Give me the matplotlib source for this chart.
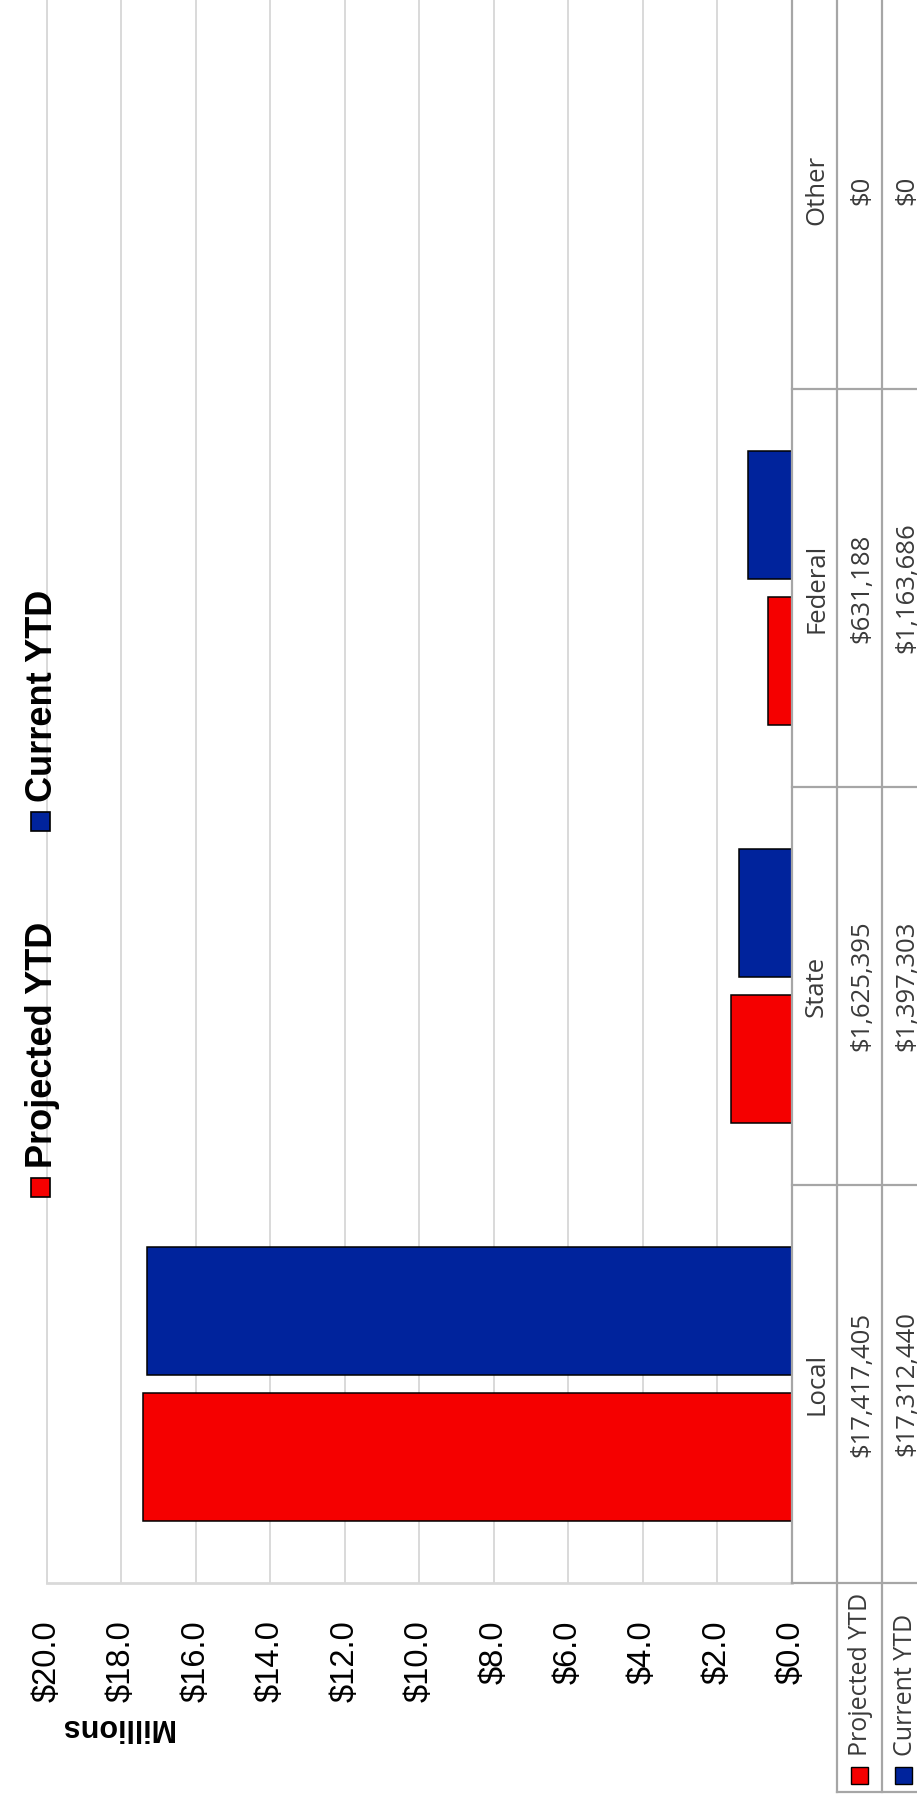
import numpy as np
import matplotlib
matplotlib.use("Agg")
import matplotlib.pyplot as plt
from matplotlib.patches import Rectangle
from matplotlib.lines import Line2D

# ---------------- data ----------------
categories = ["Local", "State", "Federal", "Other"]
series_names = ["Projected YTD", "Current YTD"]
projected_ytd = [17417405, 1625395, 631188, 0]
current_ytd = [17312440, 1397303, 1163686, 0]
value_ticks = [0, 2, 4, 6, 8, 10, 12, 14, 16, 18, 20]
tick_labels = ["$0.0", "$2.0", "$4.0", "$6.0", "$8.0", "$10.0",
               "$12.0", "$14.0", "$16.0", "$18.0", "$20.0"]
unit_label = "Millions"

RED = "#F50000"
BLUE = "#00239C"
GRID = "#D9D9D9"
TBL = "#A6A6A6"
TXT = "#3A3A3A"

W, H = 917, 1820
fig = plt.figure(figsize=(W / 100, H / 100), dpi=100)
fig.patch.set_facecolor("white")


def fx(x):
    return x / W


def fy(y):
    return 1 - y / H


# ---------------- main plot (rotated view: bars horizontal) ----------------
ax = fig.add_axes([fx(47), fy(1583), fx(791.5) - fx(47), fy(-9) - fy(1583)])
ypos = np.arange(len(categories))
proj_m = [v / 1e6 for v in projected_ytd]
curr_m = [v / 1e6 for v in current_ytd]
ax.barh(ypos - 0.183, proj_m, height=0.32, color=RED, edgecolor="black",
        linewidth=[1.1 if v > 0 else 0 for v in proj_m], zorder=3)
ax.barh(ypos + 0.183, curr_m, height=0.32, color=BLUE, edgecolor="black",
        linewidth=[1.1 if v > 0 else 0 for v in curr_m], zorder=3)
ax.set_xlim(20, 0)
ax.set_ylim(-0.5, len(categories) - 0.5)
ax.set_xticks(value_ticks)
ax.set_xticklabels(tick_labels, rotation=90, fontsize=23.5,
                   family="Liberation Sans", color="black")
ax.tick_params(axis="x", length=0, pad=27)
ax.set_yticks([])
ax.grid(axis="x", color=GRID, linewidth=1.4, zorder=0)
ax.set_axisbelow(True)
for s in ["top", "right"]:
    ax.spines[s].set_visible(False)
ax.spines["left"].set_color(GRID)
ax.spines["left"].set_linewidth(1.4)
ax.spines["bottom"].set_color(GRID)
ax.spines["bottom"].set_linewidth(2.0)

# ---------------- overlay in pixel coordinates ----------------
ov = fig.add_axes([0, 0, 1, 1], zorder=5)
ov.set_xlim(0, W)
ov.set_ylim(H, 0)
ov.axis("off")
ov.patch.set_alpha(0)

fig.canvas.draw()


def cat_px(v):
    disp = ax.transData.transform((0, v))
    return H - disp[1]


# table grid lines
x_tab0, x_tab1, x_tab2 = 792, 837, 882
y_bottom = cat_px(-0.5)
ov.add_line(Line2D([x_tab0, x_tab0], [-20, y_bottom], color=TBL, lw=1.6))
for xx in (x_tab1, x_tab2):
    ov.add_line(Line2D([xx, xx], [-20, 1792], color=TBL, lw=1.6))
for b in np.arange(len(categories) - 1) + 0.5:
    yy = cat_px(b)
    ov.add_line(Line2D([x_tab0, W + 5], [yy, yy], color=TBL, lw=1.6))
ov.add_line(Line2D([x_tab0, W + 5], [y_bottom, y_bottom], color=TBL, lw=1.6))
ov.add_line(Line2D([x_tab1, W + 5], [1792, 1792], color=TBL, lw=1.6))

tfont = dict(rotation=90, rotation_mode="anchor", ha="center", va="baseline",
             fontsize=18.5, family="Open Sans", color=TXT)
for i, cat in enumerate(categories):
    yc = cat_px(i)
    ov.text(823, yc, cat, **tfont)
    ov.text(868, yc, f"${projected_ytd[i]:,.0f}", **tfont)
    ov.text(913, yc, f"${current_ytd[i]:,.0f}", **tfont)

# legend keys inside the data table
for xk, xb, name, col in [(851, 867, series_names[0], RED),
                          (895, 912, series_names[1], BLUE)]:
    ov.add_patch(Rectangle((xk, 1767), 17, 17, facecolor=col,
                           edgecolor="black", lw=1.0))
    ov.text(xb, 1756, name, rotation=90, rotation_mode="anchor", ha="left",
            va="baseline", fontsize=18, family="Open Sans", color=TXT)

# top legend
for yk, yt, name, col in [(1178, 1168, series_names[0], RED),
                          (812, 802, series_names[1], BLUE)]:
    ov.add_patch(Rectangle((31, yk), 19, 19, facecolor=col,
                           edgecolor="black", lw=1.2))
    ov.text(52, yt, name, rotation=90, rotation_mode="anchor", ha="left",
            va="baseline", fontsize=26, fontweight="bold",
            family="Liberation Sans", color="black")

# display-unit label
ov.text(116, 1727, unit_label, rotation=180, ha="center", va="center",
        fontsize=22, fontweight="bold", family="Liberation Sans", color="black")

fig.savefig("out.png", dpi=100, facecolor="white")
